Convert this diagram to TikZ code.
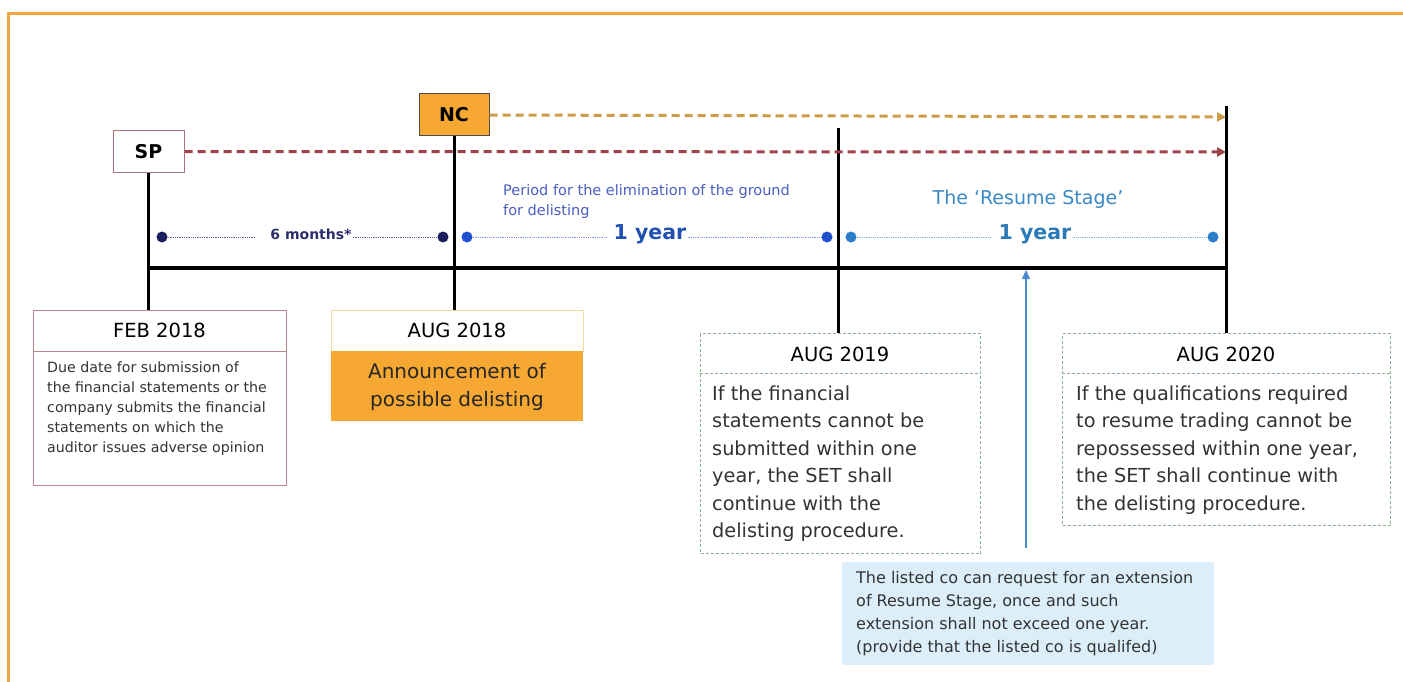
\documentclass[tikz,border=0pt]{standalone}
\usepackage{fontspec}
\setmainfont{DejaVu Sans}
\usetikzlibrary{arrows.meta}
\definecolor{frameor}{HTML}{F2A541}
\definecolor{ncor}{HTML}{F7A833}
\definecolor{spred}{HTML}{B07078}
\definecolor{redd}{HTML}{A0424A}
\definecolor{ord}{HTML}{CC9C48}
\definecolor{navy}{HTML}{1B1F5C}
\definecolor{navyt}{HTML}{2B2F6B}
\definecolor{blueA}{HTML}{1F4FCF}
\definecolor{blueAt}{HTML}{2050B0}
\definecolor{blueB}{HTML}{2A7DC6}
\definecolor{blueBt}{HTML}{2A7AB8}
\definecolor{periodt}{HTML}{4A5FC0}
\definecolor{resumet}{HTML}{3A88C4}
\definecolor{febb}{HTML}{C0848C}
\definecolor{bodyg}{HTML}{333333}
\definecolor{aughb}{HTML}{F6D9A0}
\definecolor{greenb}{HTML}{8DB08D}
\definecolor{notefill}{HTML}{DCEEFA}
\definecolor{arrowb}{HTML}{4A8ACB}
\tikzset{
  vline/.style={line width=3pt, black},
  mainline/.style={line width=4pt, black},
  dasharrow/.style={line width=3pt, dash pattern=on 8pt off 5pt, -{Triangle[length=9pt,width=9pt]}},
  markbox/.style={line width=1pt, minimum width=71pt, minimum height=42pt, inner sep=0pt, font=\fontsize{19}{20}\selectfont\bfseries},
  rectbox/.style={anchor=north west, inner sep=0pt},
  hdr/.style={font=\fontsize{19.5}{22}\selectfont, text=black, inner sep=0pt},
  bigbody/.style={anchor=north west, align=left, inner sep=0pt, font=\fontsize{19.3}{27.5}\selectfont, text=bodyg},
  dotn/.style={circle, inner sep=0pt, minimum size=11pt},
  spanline/.style={line width=0.8pt, densely dotted},
}
\begin{document}
\begin{tikzpicture}[x=1pt,y=-1pt]
\useasboundingbox (0,0) rectangle (1403,682);
\fill[white] (0,0) rectangle (1403,682);
% frame
\draw[frameor, line width=3pt] (8.5,682) -- (8.5,13.5) -- (1403,13.5);

% markers
\node[markbox, draw=spred, fill=white] (sp) at (148.5,151.5) {SP};
\node[markbox, draw=black!70, fill=ncor, minimum width=70pt] (nc) at (454,115) {NC};

% coordinates
\coordinate (t19) at (838,128);
\coordinate (t20) at (1226,106);
\coordinate (m0) at (148,268);
\coordinate (m1) at (1226,268);
\coordinate (arr) at (1026,270);
\coordinate (arrs) at (1026,548);
\coordinate (spend) at (1226,152);
\coordinate (ncend) at (1226,117);

% boxes
\node[rectbox, draw=febb, line width=1pt, fill=white, minimum width=253pt, minimum height=175pt] (feb) at (33,310) {};
\draw[febb, line width=1pt] ([yshift=-41pt]feb.north west) -- ([yshift=-41pt]feb.north east);
\node[rectbox, draw=aughb, line width=1pt, fill=white, minimum width=252pt, minimum height=41pt] (aug18h) at (331,310) {};
\node[rectbox, fill=ncor, minimum width=252pt, minimum height=70pt] (aug18b) at (331,351) {};
\node[rectbox, draw=greenb, line width=1pt, dash pattern=on 3pt off 2pt, fill=white, minimum width=280pt, minimum height=220pt] (aug19) at (700,333) {};
\draw[greenb, line width=1pt, dash pattern=on 3pt off 2pt] ([yshift=-40pt]aug19.north west) -- ([yshift=-40pt]aug19.north east);
\node[rectbox, draw=greenb, line width=1pt, dash pattern=on 3pt off 2pt, fill=white, minimum width=328pt, minimum height=192pt] (aug20) at (1062,333) {};
\draw[greenb, line width=1pt, dash pattern=on 3pt off 2pt] ([yshift=-40pt]aug20.north west) -- ([yshift=-40pt]aug20.north east);
\node[rectbox, fill=notefill, minimum width=372pt, minimum height=103pt] (note) at (842,562) {};

% vertical lines
\draw[vline] (sp.south) -- (sp.south |- feb.north);
\draw[vline] (nc.south) -- (nc.south |- aug18h.north);
\draw[vline] (t19) -- (t19 |- aug19.north);
\draw[vline] (t20) -- (t20 |- aug20.north);
\draw[mainline] (m0) -- (m1);

% dashed arrows
\draw[dasharrow, redd] (sp.east) -- (spend);
\draw[dasharrow, ord] (nc.east) -- (ncend);

% spans
\node[dotn, fill=navy] (d1) at (162,237) {};
\node[dotn, fill=navy] (d2) at (443,237) {};
\node[font=\fontsize{14}{16}\selectfont\bfseries, text=navyt, inner sep=1pt] (l1) at (311,234) {6 months*};
\draw[spanline, navy!70] (d1) -- ([xshift=-15pt]l1.west |- d1);
\draw[spanline, navy!70] (l1.east |- d2) -- (d2);

\node[dotn, fill=blueA] (d3) at (467,237) {};
\node[dotn, fill=blueA] (d4) at (827,237) {};
\node[font=\fontsize{20.5}{22}\selectfont\bfseries, text=blueAt, inner sep=1pt] (l2) at (650,234) {1 year};
\draw[spanline, blueA!60] (d3) -- ([xshift=-6pt]l2.west |- d3);
\draw[spanline, blueA!60] (l2.east |- d4) -- (d4);

\node[dotn, fill=blueB] (d5) at (851,237) {};
\node[dotn, fill=blueB] (d6) at (1213,237) {};
\node[font=\fontsize{20.5}{22}\selectfont\bfseries, text=blueBt, inner sep=1pt] (l3) at (1035,234) {1 year};
\draw[spanline, blueB!60] (d5) -- ([xshift=-6pt]l3.west |- d5);
\draw[spanline, blueB!60] (l3.east |- d6) -- (d6);

% top labels
\node[anchor=north west, align=left, inner sep=0pt, font=\fontsize{14.5}{20}\selectfont, text=periodt] (period) at (503,184) {Period for the elimination of the ground\\for delisting};
\node[font=\fontsize{19}{22}\selectfont, text=resumet, inner sep=0pt] (resume) at (1028,199) {The `Resume Stage'};

% blue arrow
\draw[arrowb, line width=1.5pt, -{Triangle[length=9pt,width=8pt]}] (arrs) -- (arr);

% box texts
\node[hdr] (febh) at (159.5,330) {FEB 2018};
\node[anchor=north west, align=left, inner sep=0pt, font=\fontsize{14.2}{20}\selectfont, text=bodyg] (febt) at (47,361.5) {Due date for submission of\\the financial statements or the\\company submits the financial\\statements on which the\\auditor issues adverse opinion};
\node[hdr] (aug18t) at (457,330) {AUG 2018};
\node[align=center, inner sep=0pt, font=\fontsize{20}{28}\selectfont, text=black!85] (annt) at (457,387) {Announcement of\\possible delisting};
\node[hdr] (aug19t) at (840,354) {AUG 2019};
\node[bigbody] (aug19b) at (712,385.5) {If the financial\\statements cannot be\\submitted within one\\year, the SET shall\\continue with the\\delisting procedure.};
\node[hdr] (aug20t) at (1226,354) {AUG 2020};
\node[bigbody] (aug20b) at (1076,385.5) {If the qualifications required\\to resume trading cannot be\\repossessed within one year,\\the SET shall continue with\\the delisting procedure.};
\node[anchor=north west, align=left, inner sep=0pt, font=\fontsize{16}{23}\selectfont, text=bodyg] (notet) at (856,571.5) {The listed co can request for an extension\\of Resume Stage, once and such\\extension shall not exceed one year.\\(provide that the listed co is qualifed)};
\end{tikzpicture}
\end{document}
